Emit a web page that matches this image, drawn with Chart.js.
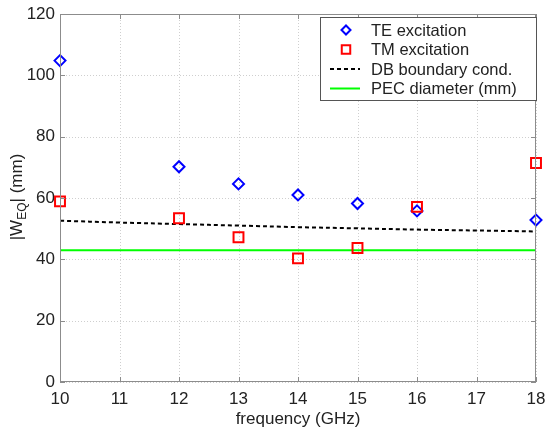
<!DOCTYPE html>
<html>
<head>
<meta charset="utf-8">
<script src="https://cdn.jsdelivr.net/npm/chart.js@4"></script>
<style>
  html, body { margin: 0; padding: 0; background: #fff; }
  #wrap { width: 545px; height: 434px; }
</style>
</head>
<body>
<div id="wrap"><canvas id="weqChart" width="545" height="434"></canvas></div>
<script>
const freqs = [10, 12, 13, 14, 15, 16, 18];
const teValues = [104.8, 70.2, 64.6, 61.0, 58.2, 55.8, 52.8];
const tmValues = [58.9, 53.4, 47.2, 40.3, 43.7, 57.1, 71.4];
const dbFreqs = [10, 11, 12, 13, 14, 15, 16, 17, 18];
const dbValues = [52.6, 52.0, 51.5, 51.0, 50.5, 50.1, 49.7, 49.4, 49.1];
const pecFreqs = [10, 18];
const pecValues = [43, 43];
const xTicks = [10, 11, 12, 13, 14, 15, 16, 17, 18];
const yTicks = [0, 20, 40, 60, 80, 100, 120];
const legendLabels = ["TE excitation", "TM excitation", "DB boundary cond.", "PEC diameter (mm)"];

function toPoints(xs, ys) {
    return xs.map(function (x, i) { return { x: x, y: ys[i] }; });
}

const FONT = "'Liberation Sans', Arial, sans-serif";

// dotted grid behind the data
const gridPlugin = {
    id: "dotGrid",
    beforeDatasetsDraw: function (chart) {
        const ctx = chart.ctx;
        const a = chart.chartArea;
        ctx.save();
        ctx.strokeStyle = "#cfcfcf";
        ctx.lineWidth = 1;
        ctx.setLineDash([1, 2]);
        ctx.beginPath();
        xTicks.forEach(function (t) {
            const px = Math.round(chart.scales.x.getPixelForValue(t)) + 0.5;
            ctx.moveTo(px, a.top); ctx.lineTo(px, a.bottom);
        });
        yTicks.forEach(function (t) {
            const py = Math.round(chart.scales.y.getPixelForValue(t)) + 0.5;
            ctx.moveTo(a.left, py); ctx.lineTo(a.right, py);
        });
        ctx.stroke();
        ctx.restore();
    }
};

// box, inward ticks, y title with subscript, legend
const decorPlugin = {
    id: "decor",
    afterDatasetsDraw: function (chart) {
        const ctx = chart.ctx;
        const a = chart.chartArea;
        const xs = chart.scales.x;
        const ys = chart.scales.y;
        ctx.save();
        ctx.strokeStyle = "#8c8c8c";
        ctx.lineWidth = 1;
        ctx.strokeRect(a.left + 0.5, a.top + 0.5, a.right - a.left - 1, a.bottom - a.top - 1);
        ctx.beginPath();
        xTicks.forEach(function (t) {
            const px = Math.round(xs.getPixelForValue(t)) + 0.5;
            ctx.moveTo(px, a.bottom); ctx.lineTo(px, a.bottom - 5);
            ctx.moveTo(px, a.top); ctx.lineTo(px, a.top + 5);
        });
        yTicks.forEach(function (t) {
            const py = Math.round(ys.getPixelForValue(t)) + 0.5;
            ctx.moveTo(a.left, py); ctx.lineTo(a.left + 5, py);
            ctx.moveTo(a.right, py); ctx.lineTo(a.right - 5, py);
        });
        ctx.stroke();

        // y axis title |W_EQ| (mm)
        ctx.save();
        ctx.translate(17, 197);
        ctx.rotate(-Math.PI / 2);
        ctx.fillStyle = "#222";
        ctx.textBaseline = "middle";
        const p1 = "|W", p2 = "EQ", p3 = "| (mm)";
        ctx.font = "17px " + FONT;
        const w1 = ctx.measureText(p1).width;
        const w3 = ctx.measureText(p3).width;
        ctx.font = "12px " + FONT;
        const w2 = ctx.measureText(p2).width;
        const x0 = -(w1 + w2 + w3) / 2;
        ctx.font = "17px " + FONT;
        ctx.fillText(p1, x0, 0);
        ctx.font = "12px " + FONT;
        ctx.fillText(p2, x0 + w1, 6);
        ctx.font = "17px " + FONT;
        ctx.fillText(p3, x0 + w1 + w2, 0);
        ctx.restore();

        // legend
        const lx = 320, ly = 17, lw = 216, lh = 83;
        ctx.fillStyle = "#fff";
        ctx.fillRect(lx, ly, lw, lh);
        ctx.strokeStyle = "#555";
        ctx.strokeRect(lx + 0.5, ly + 0.5, lw, lh);
        ctx.textBaseline = "middle";
        ctx.textAlign = "left";
        legendLabels.forEach(function (label, i) {
            const ds = chart.data.datasets[i];
            const cy = ly + 13 + i * 19.5;
            ctx.save();
            ctx.strokeStyle = ds.borderColor;
            ctx.fillStyle = "rgba(0,0,0,0)";
            ctx.lineWidth = ds.borderWidth;
            if (ds.showLine) {
                ctx.setLineDash(ds.borderDash || []);
                ctx.beginPath();
                ctx.moveTo(330, cy); ctx.lineTo(360, cy);
                ctx.stroke();
            } else {
                Chart.helpers.drawPoint(ctx, { pointStyle: ds.pointStyle, radius: ds.pointRadius - 1, borderWidth: ds.borderWidth, rotation: 0 }, 346, cy);
            }
            ctx.restore();
            ctx.font = "16.5px " + FONT;
            ctx.fillStyle = "#222";
            ctx.fillText(label, 371, cy + 1);
        });
        ctx.restore();
    }
};

const ctx = document.getElementById("weqChart").getContext("2d");

new Chart(ctx, {
    type: "scatter",
    data: {
        datasets: [
            {
                label: legendLabels[0],
                data: toPoints(freqs, teValues),
                showLine: false,
                pointStyle: "rectRot",
                pointRadius: 5.5,
                borderColor: "#0000ff",
                backgroundColor: "rgba(0,0,0,0)",
                borderWidth: 2,
                clip: false,
                order: 1,
            },
            {
                label: legendLabels[1],
                data: toPoints(freqs, tmValues),
                showLine: false,
                pointStyle: "rect",
                pointRadius: 7,
                borderColor: "#ff0000",
                backgroundColor: "rgba(0,0,0,0)",
                borderWidth: 2,
                clip: false,
                order: 0,
            },
            {
                label: legendLabels[2],
                data: toPoints(dbFreqs, dbValues),
                showLine: true,
                pointRadius: 0,
                borderColor: "#000000",
                borderWidth: 2,
                borderDash: [4, 3],
                tension: 0.4,
                order: 2,
            },
            {
                label: legendLabels[3],
                data: toPoints(pecFreqs, pecValues),
                showLine: true,
                pointRadius: 0,
                borderColor: "#00ff00",
                borderWidth: 2,
                order: 3,
            },
        ],
    },
    options: {
        responsive: false,
        animation: false,
        layout: { padding: { top: 14, right: 5, left: 0, bottom: 0 } },
        plugins: {
            legend: { display: false },
            tooltip: { enabled: false },
        },
        scales: {
            x: {
                type: "linear",
                min: 10,
                max: 18,
                afterBuildTicks: function (s) { s.ticks = xTicks.map(function (v) { return { value: v }; }); },
                afterFit: function (s) { s.height = 52; s.paddingLeft = 0; s.paddingRight = 0; },
                grid: { display: false, drawTicks: false },
                border: { display: false },
                ticks: { color: "#222", font: { size: 17, family: FONT }, padding: 7, maxRotation: 0 },
                title: { display: true, text: "frequency (GHz)", color: "#222", font: { size: 17, family: FONT }, padding: { top: 0, bottom: 4 } },
            },
            y: {
                min: 0,
                max: 120,
                afterBuildTicks: function (s) { s.ticks = yTicks.map(function (v) { return { value: v }; }); },
                afterFit: function (s) { s.width = 60; s.paddingTop = 0; s.paddingBottom = 0; },
                grid: { display: false, drawTicks: false },
                border: { display: false },
                ticks: { color: "#222", font: { size: 17, family: FONT }, padding: 5 },
            },
        },
    },
    plugins: [gridPlugin, decorPlugin],
});
</script>
</body>
</html>
